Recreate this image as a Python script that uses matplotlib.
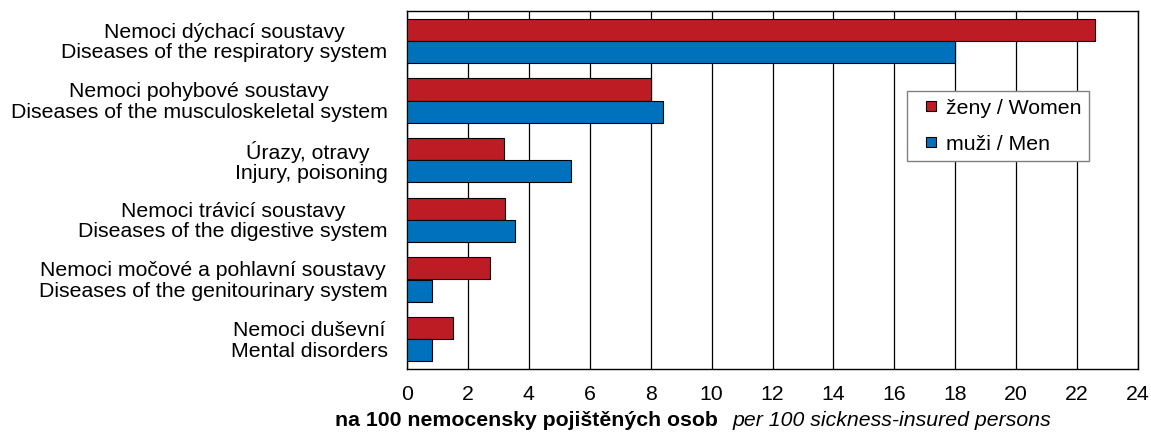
import matplotlib
matplotlib.use('Agg')
import matplotlib.pyplot as plt
import matplotlib.transforms as mtransforms
import numpy as np
from matplotlib.lines import Line2D

categories = [
    "Nemoci dýchací soustavy\nDiseases of the respiratory system",
    "Nemoci pohybové soustavy\nDiseases of the musculoskeletal system",
    "Úrazy, otravy \nInjury, poisoning",
    "Nemoci trávicí soustavy\nDiseases of the digestive system",
    "Nemoci močové a pohlavní soustavy\nDiseases of the genitourinary system",
    "Nemoci duševní\nMental disorders",
]
women = [22.6, 8.0, 3.2, 3.23, 2.71, 1.5]
men = [18.0, 8.4, 5.4, 3.53, 0.82, 0.83]
xticks = list(range(0, 25, 2))
series_labels = ["ženy / Women", "muži / Men"]
xlabel_cz = "na 100 nemocensky pojištěných osob"
xlabel_en = "per 100 sickness-insured persons"

RED = "#BE1C24"
BLUE = "#0071BC"
FS = 15.3

plt.rcParams['font.family'] = ['Liberation Sans', 'DejaVu Sans']

W, H = 1151, 435
fig = plt.figure(figsize=(W / 100, H / 100), dpi=100)
ax = fig.add_axes([407 / W, 1 - 370 / H, 731 / W, 358 / H])

y = np.arange(len(categories))
h = 0.37
ax.barh(y - h / 2, women, height=h, color=RED, edgecolor='black', linewidth=0.8, zorder=3)
ax.barh(y + h / 2, men, height=h, color=BLUE, edgecolor='black', linewidth=0.8, zorder=3)

ax.set_ylim(len(categories) - 0.5, -0.5)
ax.set_xlim(0, 24)
ax.set_xticks(xticks)
ax.set_xticklabels([str(t) for t in xticks], fontsize=FS)
ax.set_yticks(y)
ax.set_yticklabels(categories, fontsize=FS, multialignment='center', linespacing=1.1)
ax.tick_params(axis='x', length=0, pad=11)
ax.tick_params(axis='y', length=0, pad=14)
ax.xaxis.grid(True, color='black', linewidth=0.9, zorder=0)
ax.set_axisbelow(True)
for s in ax.spines.values():
    s.set_color('black')
    s.set_linewidth(1.0)

shift = mtransforms.ScaledTranslation(0, 2 / 100, fig.dpi_scale_trans)
for lab in ax.get_yticklabels():
    lab.set_transform(lab.get_transform() + shift)

handles = [
    Line2D([], [], linestyle='none', marker='s', markersize=7.5, markerfacecolor=RED,
           markeredgecolor='black', markeredgewidth=0.8),
    Line2D([], [], linestyle='none', marker='s', markersize=7.5, markerfacecolor=BLUE,
           markeredgecolor='black', markeredgewidth=0.8),
]
leg = ax.legend(handles, series_labels, loc='upper left', bbox_to_anchor=(0.684, 0.777),
                fontsize=FS, frameon=True, fancybox=False, shadow=False,
                borderpad=0.36, handlelength=1.54, handletextpad=-0.06,
                labelspacing=0.80, borderaxespad=0)
leg.get_frame().set_edgecolor('#808080')
leg.get_frame().set_linewidth(1.0)
leg.get_frame().set_alpha(1)

fig.text(718 / W, 1 - 426 / H, xlabel_cz, ha='right', va='baseline',
         fontsize=FS, fontweight='bold')
fig.text(733 / W, 1 - 426 / H, xlabel_en, ha='left', va='baseline',
         fontsize=FS, style='italic')

fig.savefig('out.png', dpi=100)
